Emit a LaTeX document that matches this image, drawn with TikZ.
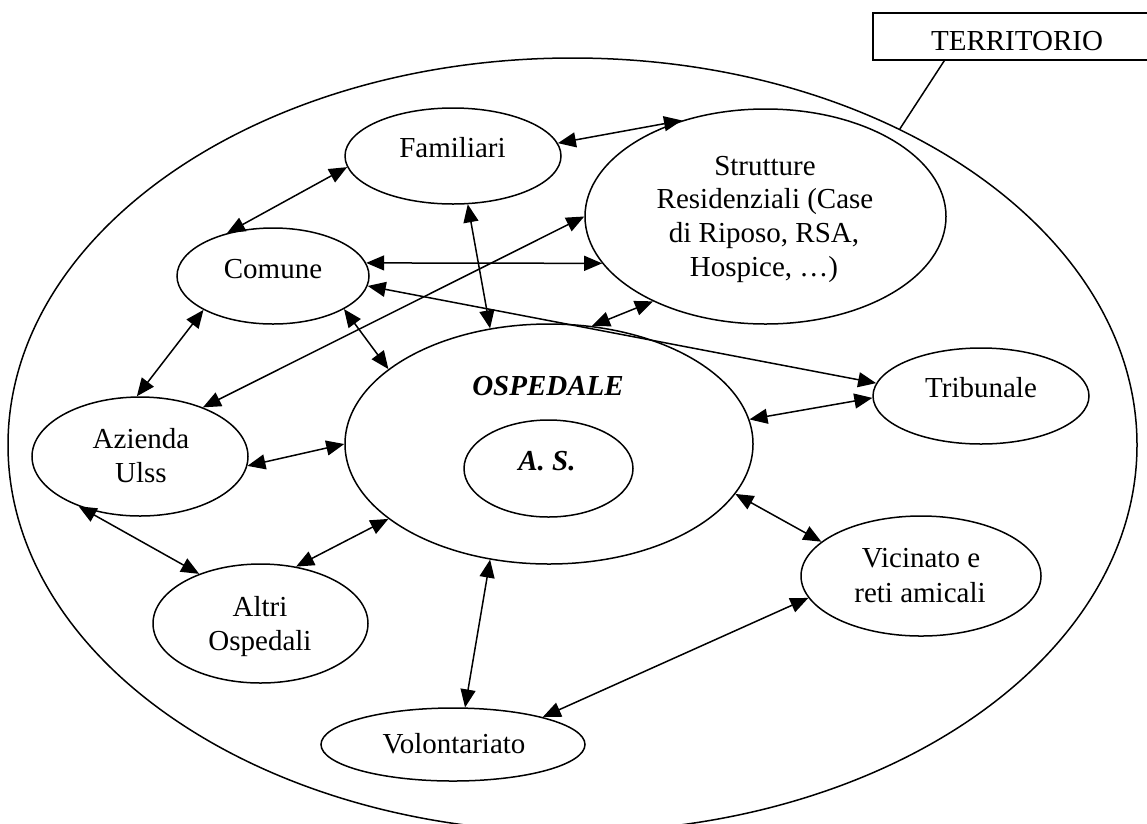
\documentclass[tikz,border=0pt]{standalone}
\usepackage{fontspec}
\setmainfont{Liberation Serif}
\usetikzlibrary{shapes.geometric,arrows.meta}
\begin{document}
\begin{tikzpicture}[x=1pt,y=-1pt,
  elli/.style={ellipse,draw,line width=1.5pt,inner sep=0pt},
  lbl/.style={anchor=base,inner sep=0pt,font=\fontsize{29}{34}\selectfont},
  lblbi/.style={lbl,font=\fontsize{29}{34}\selectfont\bfseries\itshape},
  bil/.style={line width=1.5pt,{Triangle[length=18pt,width=15pt]}-{Triangle[length=18pt,width=15pt]}},
  lead/.style={line width=1.5pt}
]
\clip (0,0) rectangle (1147,823);
% outer territory ellipse and label box
\node[elli,minimum width=1129pt,minimum height=774pt] (terr) at (572.5,445) {};
\node[draw,line width=1.5pt,minimum width=288pt,minimum height=47pt,inner sep=0pt] (tbox) at (1017,36.5) {};
\node[lbl] (t-terr) at (1017,50) {TERRITORIO};
\draw[lead] ([xshift=72pt]tbox.south west) -- (terr.44);

% ellipses
\node[elli,minimum width=216pt,minimum height=96pt] (fam) at (453,156) {};
\node[elli,minimum width=361pt,minimum height=215pt] (strut) at (765.5,216.5) {};
\node[elli,minimum width=192pt,minimum height=96pt] (com) at (273,276) {};
\node[elli,minimum width=408pt,minimum height=240pt] (osp) at (549,444) {};
\node[elli,minimum width=169pt,minimum height=97pt] (as) at (548.5,468.5) {};
\node[elli,minimum width=216pt,minimum height=119pt] (az) at (140,456.5) {};
\node[elli,minimum width=215pt,minimum height=119pt] (alt) at (260.5,623.5) {};
\node[elli,minimum width=264pt,minimum height=73pt] (vol) at (453,744.5) {};
\node[elli,minimum width=240pt,minimum height=120pt] (vic) at (921,576) {};
\node[elli,minimum width=216pt,minimum height=96pt] (trib) at (981,396) {};

% labels
\node[lbl] (t-fam) at (452.5,157) {Familiari};
\node[lbl] (t-s1) at (765,175) {Strutture};
\node[lbl] (t-s2) at (765,208) {Residenziali (Case};
\node[lbl] (t-s3) at (764,242) {di Riposo, RSA,};
\node[lbl] (t-s4) at (764,276) {Hospice, …)};
\node[lbl] (t-com) at (273,278) {Comune};
\node[lblbi] (t-osp) at (548,395) {OSPEDALE};
\node[lblbi] (t-as) at (547,470) {A. S.};
\node[lbl] (t-az1) at (141,448) {Azienda};
\node[lbl] (t-az2) at (141,482) {Ulss};
\node[lbl] (t-al1) at (260,616) {Altri};
\node[lbl] (t-al2) at (260,650) {Ospedali};
\node[lbl] (t-trib) at (981,397) {Tribunale};
\node[lbl] (t-v1) at (921,567) {Vicinato e};
\node[lbl] (t-v2) at (920,602) {reti amicali};
\node[lbl] (t-vol) at (454,753) {Volontariato};

% connectors
\draw[bil] (fam.7) -- (strut.131);
\draw[bil] (com.137) -- (fam.186);
\draw[bil] (com.8) -- (strut.196);
\draw[bil] (com.354) -- (trib.173);
\draw[bil] (az.38) -- (strut.180);
\draw[bil] (fam.287) -- (osp.117);
\draw[bil] (com.335) -- (osp.155);
\draw[bil] (osp.70) -- (strut.217);
\draw[bil] (com.206) -- (az.93);
\draw[bil] (az.355) -- (osp.180);
\draw[bil] (az.219) -- (alt.141);
\draw[bil] (alt.58) -- (osp.205);
\draw[bil] (osp.7) -- (trib.181);
\draw[bil] (osp.345) -- (vic.161);
\draw[bil] (osp.243) -- (vol.72);
\draw[bil] (vol.17) -- (vic.191);
\end{tikzpicture}
\end{document}
